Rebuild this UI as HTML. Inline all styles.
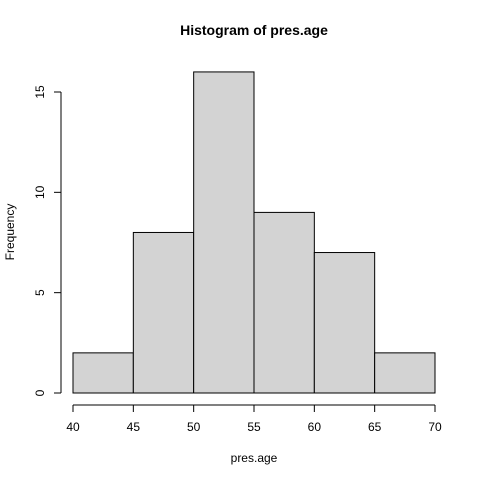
<!DOCTYPE html>
<html><head><meta charset="utf-8"><style>
body{margin:0;background:#fff}
svg text{font-family:"Liberation Sans",Arial,sans-serif;fill:#000}
</style></head><body>
<svg width="480" height="480" xmlns="http://www.w3.org/2000/svg">
<text x="254" y="35" font-size="14" font-weight="bold" text-anchor="middle">Histogram of pres.age</text>
<text x="254" y="462" font-size="12" text-anchor="middle">pres.age</text>
<text transform="translate(14,232) rotate(-90)" font-size="12" text-anchor="middle">Frequency</text>
<g id="bars"></g>
<g id="xaxis"></g>
<g id="yaxis"></g>
</svg>
<script>
const binStarts=[40,45,50,55,60,65];
const binWidth=5;
const counts=[2,8,16,9,7,2];
const xTicks=[40,45,50,55,60,65,70];
const yTicks=[0,5,10,15];
const NS="http://www.w3.org/2000/svg";
function sx(v){return 73+(v-40)*(362/30);}
function sy(v){return 393-v*(301/15);}
function mk(tag,attrs,parent){const e=document.createElementNS(NS,tag);for(const k in attrs)e.setAttribute(k,attrs[k]);parent.appendChild(e);return e;}
const bars=document.getElementById('bars');
counts.forEach((c,i)=>{
  const x0=sx(binStarts[i]),x1=sx(binStarts[i]+binWidth);
  const r=mk('rect',{x:x0,y:sy(c),width:x1-x0,height:sy(0)-sy(c),fill:'#d3d3d3',stroke:'#000','stroke-width':1},bars);
  
  
});
const xa=document.getElementById('xaxis');
mk('line',{x1:sx(xTicks[0]),x2:sx(xTicks[xTicks.length-1]),y1:405,y2:405,stroke:'#000'},xa);
xTicks.forEach(t=>{
  mk('line',{x1:sx(t),x2:sx(t),y1:405,y2:412,stroke:'#000'},xa);
  const l=mk('text',{x:sx(t),y:431,'font-size':12,'text-anchor':'middle'},xa);
  l.textContent=t;
  
  
});
const ya=document.getElementById('yaxis');
mk('line',{x1:61,x2:61,y1:sy(yTicks[0]),y2:sy(yTicks[yTicks.length-1]),stroke:'#000'},ya);
yTicks.forEach(t=>{
  mk('line',{x1:54,x2:61,y1:sy(t),y2:sy(t),stroke:'#000'},ya);
  const l=mk('text',{transform:`translate(44,${sy(t)}) rotate(-90)`,'font-size':12,'text-anchor':'middle'},ya);
  l.textContent=t;
  
  
});
</script>
</body></html>
